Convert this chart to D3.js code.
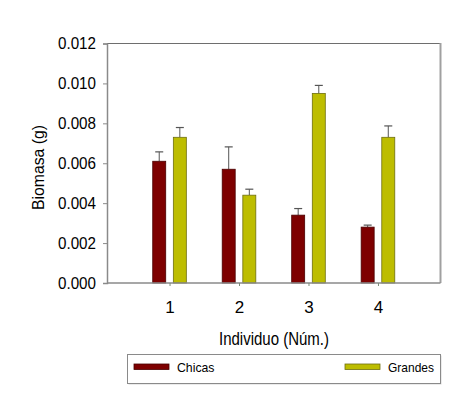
<!DOCTYPE html>
<html>
<head>
<meta charset="utf-8">
<script src="https://cdn.jsdelivr.net/npm/d3@7"></script>
<style>
  html, body { margin: 0; padding: 0; background: #fff; }
  svg { display: block; }
  text { font-family: "Liberation Sans", Arial, sans-serif; fill: #000; }
</style>
</head>
<body>
<svg id="chart" width="475" height="399"></svg>
<script>
const categories = ["1", "2", "3", "4"];
const seriesNames = ["Chicas", "Grandes"];
const chicas = [0.0061, 0.0057, 0.0034, 0.0028];
const chicasErr = [0.00047, 0.00112, 0.00033, 0.0001];
const grandes = [0.0073, 0.0044, 0.0095, 0.0073];
const grandesErr = [0.00049, 0.0003, 0.0004, 0.00057];
const yTicks = [0, 0.002, 0.004, 0.006, 0.008, 0.010, 0.012];
const colors = { Chicas: "#7e0000", Grandes: "#bdbd00" };
const strokes = { Chicas: "#4a0000", Grandes: "#6e6e10" };

const svg = d3.select("#chart");
const L = 107, R = 440.5, T = 43.5, B = 283;

const x = d3.scaleLinear().domain([0.1, 4.9]).range([L, R]);
const xSub = d3.scaleBand().domain(seriesNames).range([-16.8, 16.8]).paddingInner(0.37).paddingOuter(0);
const y = d3.scaleLinear().domain([0, 0.012]).range([B, T]);

// frame top and right
svg.append("line").attr("x1", L).attr("x2", R).attr("y1", T).attr("y2", T)
  .attr("stroke", "#6e6e6e").attr("stroke-width", 1);
svg.append("line").attr("x1", R).attr("x2", R).attr("y1", T - 0.5).attr("y2", B)
  .attr("stroke", "#a0a0a0").attr("stroke-width", 2);

// data rows
const rows = categories.map((c, i) => ({
  cat: +c,
  vals: [
    { s: "Chicas", v: chicas[i], e: chicasErr[i] },
    { s: "Grandes", v: grandes[i], e: grandesErr[i] }
  ]
}));

const groups = svg.selectAll("g.grp").data(rows).enter().append("g")
  .attr("class", "grp")
  .attr("transform", d => `translate(${x(d.cat)},0)`);

const items = groups.selectAll("g.bar").data(d => d.vals).enter().append("g").attr("class", "bar");

// error bars (upper only)
items.append("line")
  .attr("x1", d => xSub(d.s) + xSub.bandwidth() / 2)
  .attr("x2", d => xSub(d.s) + xSub.bandwidth() / 2)
  .attr("y1", d => y(d.v)).attr("y2", d => y(d.v + d.e))
  .attr("stroke", "#555").attr("stroke-width", 1);
items.append("line")
  .attr("x1", d => xSub(d.s) + xSub.bandwidth() / 2 - 4)
  .attr("x2", d => xSub(d.s) + xSub.bandwidth() / 2 + 4)
  .attr("y1", d => y(d.v + d.e)).attr("y2", d => y(d.v + d.e))
  .attr("stroke", "#555").attr("stroke-width", 1.2);

items.append("rect")
  .attr("x", d => xSub(d.s))
  .attr("width", xSub.bandwidth())
  .attr("y", d => y(d.v))
  .attr("height", d => y(0) - y(d.v))
  .attr("fill", d => colors[d.s])
  .attr("stroke", d => strokes[d.s])
  .attr("stroke-width", 0.8);

// y axis
const yAxis = d3.axisLeft(y).tickValues(yTicks).tickFormat(d3.format(".3f")).tickSize(4).tickPadding(7);
const gy = svg.append("g").attr("transform", `translate(${L},0)`).call(yAxis);
gy.select(".domain").attr("stroke", "#8a8a8a").attr("stroke-width", 1.5);
gy.selectAll(".tick line").attr("stroke", "#8a8a8a");
gy.selectAll(".tick text").attr("font-size", 16).attr("font-family", "Liberation Sans, Arial, sans-serif")
  .attr("fill", "#111").attr("textLength", 38).attr("lengthAdjust", "spacingAndGlyphs");

// x axis
const xAxis = d3.axisBottom(x).tickValues(categories.map(Number)).tickFormat(d3.format("d")).tickSize(3).tickPadding(15);
const gx = svg.append("g").attr("transform", `translate(0,${B})`).call(xAxis);
gx.select(".domain").attr("stroke", "#8a8a8a").attr("stroke-width", 1.5).attr("d", `M${L},0H${R}`);
gx.selectAll(".tick line").attr("stroke", "#7a8a7a");
gx.selectAll(".tick text").attr("font-size", 17).attr("font-family", "Liberation Sans, Arial, sans-serif").attr("fill", "#111");

// axis titles
svg.append("text").attr("x", 274).attr("y", 344.5).attr("text-anchor", "middle")
  .attr("font-size", 18).attr("textLength", 110).attr("lengthAdjust", "spacingAndGlyphs")
  .attr("fill", "#111").text("Individuo (Núm.)");
svg.append("text").attr("transform", "translate(44,167.5) rotate(-90)").attr("text-anchor", "middle")
  .attr("font-size", 17).attr("textLength", 85).attr("lengthAdjust", "spacingAndGlyphs")
  .attr("fill", "#111").text("Biomasa (g)");

// legend
const leg = svg.append("g");
leg.append("rect").attr("x", 128.5).attr("y", 355.5).attr("width", 313).attr("height", 29)
  .attr("fill", "#d8d8d8");
leg.append("rect").attr("x", 127.5).attr("y", 354.5).attr("width", 313).attr("height", 29)
  .attr("fill", "#fff").attr("stroke", "#8a8a8a").attr("stroke-width", 1);
const legItems = [
  { s: "Chicas", sx: 134, tx: 177, tl: 37.5 },
  { s: "Grandes", sx: 345, tx: 388, tl: 46 }
];
legItems.forEach(it => {
  leg.append("rect").attr("x", it.sx).attr("y", 364).attr("width", 35).attr("height", 5.5)
    .attr("fill", colors[it.s]).attr("stroke", strokes[it.s]).attr("stroke-width", 0.8);
  leg.append("text").attr("x", it.tx).attr("y", 372).attr("font-size", 13.5)
    .attr("textLength", it.tl).attr("lengthAdjust", "spacingAndGlyphs").attr("fill", "#111").text(it.s);
});
</script>
</body>
</html>
